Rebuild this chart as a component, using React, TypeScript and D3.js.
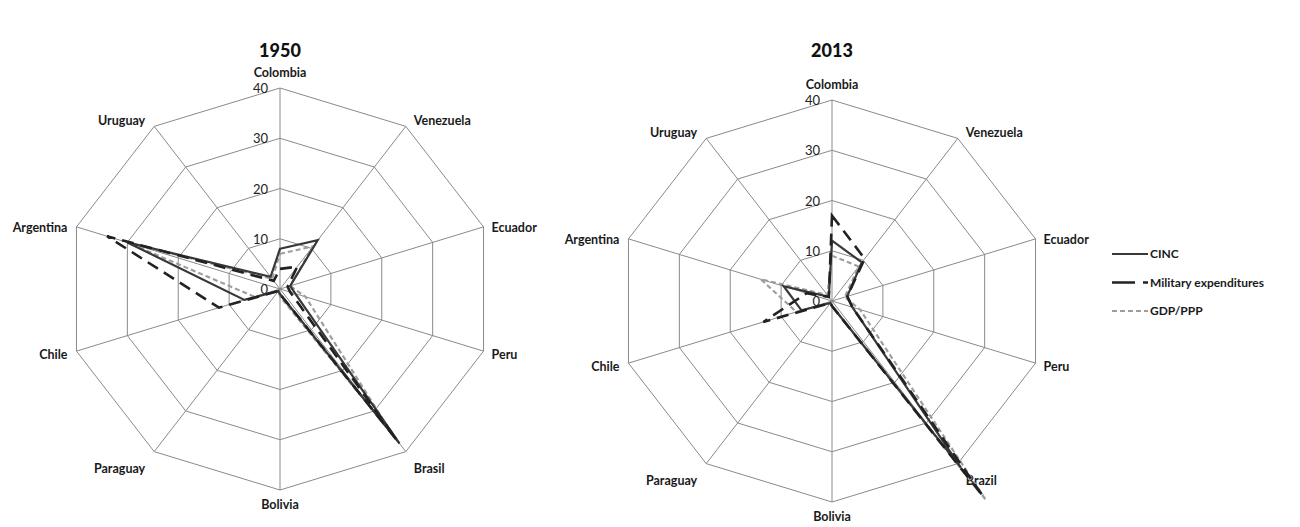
import React, { useEffect, useRef } from "react";
import * as d3 from "d3";

// axes, clockwise from the top
const countries1950 = ["Colombia", "Venezuela", "Ecuador", "Peru", "Brasil", "Bolivia", "Paraguay", "Chile", "Argentina", "Uruguay"];
const countries2013 = ["Colombia", "Venezuela", "Ecuador", "Peru", "Brazil", "Bolivia", "Paraguay", "Chile", "Argentina", "Uruguay"];

const ticks = [0, 10, 20, 30, 40];

// shares (%)
const cinc1950 = [8, 12, 2, 3, 38, 1, 0.5, 7, 30, 3];
const military1950 = [4, 5.5, 1.5, 2, 37, 1, 0.5, 12, 34, 2];
const gdp1950 = [7, 10.5, 2, 5, 36, 1.5, 0.5, 5, 30, 2.5];

const cinc2013 = [12, 9.5, 3, 4, 41, 1, 0.5, 6, 9.5, 1];
const military2013 = [17, 10.4, 3, 4, 48, 1, 0.5, 13.5, 5, 1];
const gdp2013 = [9, 8.5, 2.5, 5.5, 49, 1, 0.5, 7, 14, 1.5];

const seriesNames = ["CINC", "Military expenditures", "GDP/PPP"];

const FONT = "Lato, 'Open Sans', sans-serif";

const styles = [
  { color: "#383838", width: 2.2, dash: "" },
  { color: "#222", width: 2.6, dash: "12,7" },
  { color: "#9d9d9d", width: 2.1, dash: "5,3" },
];

const RX = 214;
const RY = 201;

function drawRadar(
  svg: d3.Selection<SVGSVGElement, unknown, null, undefined>,
  cx: number,
  cy: number,
  title: string,
  labels: string[],
  series: number[][]
) {
  const g = svg.append("g");
  const n = labels.length;
  const r = d3.scaleLinear().domain([0, 40]).range([0, 1]);
  const angle = (i: number) => (i * 2 * Math.PI) / n;
  const px = (i: number, v: number) => cx + r(v) * RX * Math.sin(angle(i));
  const py = (i: number, v: number) => cy - r(v) * RY * Math.cos(angle(i));

  g.append("text")
    .attr("x", cx)
    .attr("y", 57)
    .attr("text-anchor", "middle")
    .attr("font-family", FONT)
    .attr("font-weight", 900)
    .attr("font-size", 18)
    .attr("fill", "#111")
    .text(title);

  // rings
  const ring = d3
    .line<number>()
    .x((d, i) => px(i, d))
    .y((d, i) => py(i, d))
    .curve(d3.curveLinearClosed);

  ticks.slice(1).forEach((t) => {
    g.append("path")
      .attr("d", ring(labels.map(() => t)))
      .attr("fill", "none")
      .attr("stroke", "#8a8a8a")
      .attr("stroke-width", 1);
  });

  // spokes
  labels.forEach((_, i) => {
    g.append("line")
      .attr("x1", cx)
      .attr("y1", cy)
      .attr("x2", px(i, 40))
      .attr("y2", py(i, 40))
      .attr("stroke", "#8a8a8a")
      .attr("stroke-width", 1);
  });

  // tick labels
  ticks.forEach((t) => {
    g.append("text")
      .attr("x", cx - 12)
      .attr("y", py(0, t) + 5)
      .attr("text-anchor", "end")
      .attr("font-family", FONT)
      .attr("font-size", 13)
      .attr("fill", "#222")
      .text(t);
  });

  // category labels
  labels.forEach((name, i) => {
    const s = Math.sin(angle(i));
    const c = Math.cos(angle(i));
    let dx = 0;
    let anchor = "middle";
    if (s > 0.1) {
      dx = 8;
      anchor = "start";
    } else if (s < -0.1) {
      dx = -9;
      anchor = "end";
    }
    let dy = 0;
    if (c > 0.9) dy = -15;
    else if (c < -0.9) dy = 15;
    else if (c > 0.5) dy = -5;
    else if (c < -0.5) dy = 17;
    else if (c > 0) dy = 1;
    else dy = 4;
    g.append("text")
      .attr("x", px(i, 40) + dx)
      .attr("y", py(i, 40) + dy + 4)
      .attr("text-anchor", anchor)
      .attr("font-family", FONT)
      .attr("font-weight", 700)
      .attr("font-size", 12.5)
      .attr("fill", "#1a1a1a")
      .text(name);
  });

  // series, lighter first so the dark ones sit on top
  [2, 0, 1].forEach((k) => {
    const st = styles[k];
    g.append("path")
      .attr("d", ring(series[k]))
      .attr("fill", "none")
      .attr("stroke", st.color)
      .attr("stroke-width", st.width)
      .attr("stroke-dasharray", st.dash || null)
      .attr("stroke-linejoin", "miter");
  });
}

export default function App() {
  const svgRef = useRef<SVGSVGElement | null>(null);

  useEffect(() => {
    const svg = d3.select(svgRef.current!);
    svg.selectAll("*").remove();

    drawRadar(svg, 280, 289, "1950", countries1950, [cinc1950, military1950, gdp1950]);
    drawRadar(svg, 832, 301, "2013", countries2013, [cinc2013, military2013, gdp2013]);

    // legend
    const legend = svg.append("g").attr("transform", "translate(1112,254)");
    seriesNames.forEach((name, k) => {
      const st = styles[k];
      const y = k * 28.5;
      legend
        .append("line")
        .attr("x1", 0)
        .attr("x2", 36)
        .attr("y1", y)
        .attr("y2", y)
        .attr("stroke", st.color)
        .attr("stroke-width", st.width)
        .attr("stroke-dasharray", k === 1 ? "23,8" : st.dash || null);
      legend
        .append("text")
        .attr("x", 38)
        .attr("y", y + 4)
        .attr("font-family", FONT)
        .attr("font-weight", 700)
        .attr("font-size", 12)
        .attr("fill", "#1a1a1a")
        .text(name);
    });
  }, []);

  return (
    <svg
      ref={svgRef}
      width={1300}
      height={527}
      style={{ position: "absolute", left: 0, top: 0, background: "#fff" }}
    />
  );
}
